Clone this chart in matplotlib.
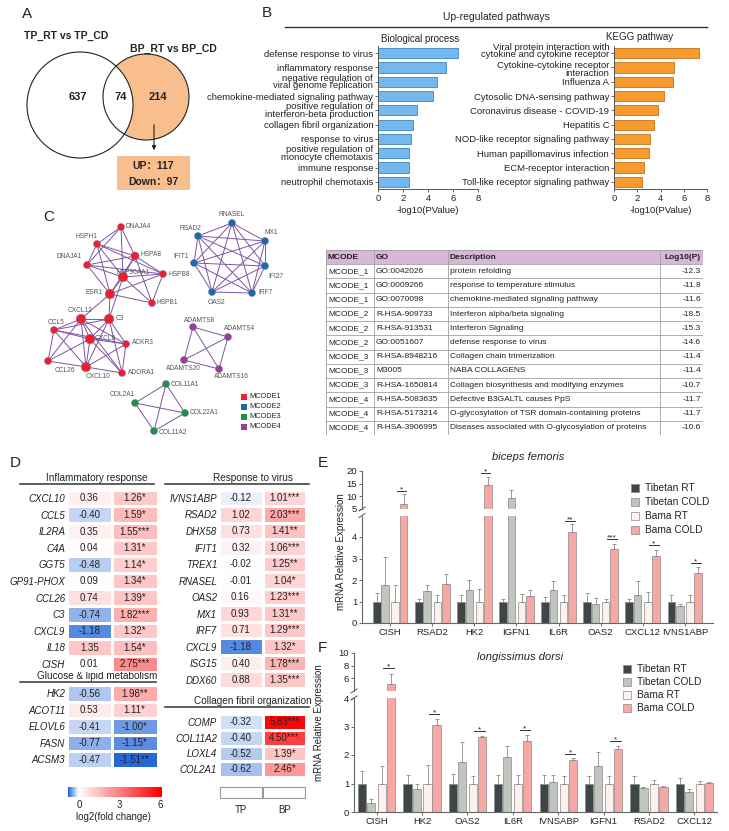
import itertools
import numpy as np
import matplotlib
matplotlib.use('Agg')
import matplotlib.pyplot as plt
from matplotlib.patches import Circle, Rectangle
from matplotlib.colors import LinearSegmentedColormap, Normalize
from matplotlib.transforms import offset_copy

plt.rcParams['font.family'] = ['Liberation Sans', 'Noto Sans CJK SC', 'DejaVu Sans']
plt.rcParams['text.color'] = '#222222'
plt.rcParams['axes.labelcolor'] = '#222222'
plt.rcParams['xtick.color'] = '#555555'
plt.rcParams['ytick.color'] = '#555555'
plt.rcParams['xtick.labelcolor'] = '#222222'
plt.rcParams['ytick.labelcolor'] = '#222222'

# ---------------- data ----------------
# A: venn
venn_counts = [637, 74, 214]
bp_up, bp_down = 117, 97

# B: up-regulated pathways
bp_terms = ['defense response to virus', 'inflammatory response',
            'negative regulation of\nviral genome replication',
            'chemokine-mediated signaling pathway',
            'positive regulation of\ninterferon-beta production',
            'collagen fibril organization', 'response to virus',
            'positive regulation of\nmonocyte chemotaxis',
            'immune response', 'neutrophil chemotaxis']
bp_logp = [6.4, 5.4, 4.7, 4.4, 3.1, 2.8, 2.6, 2.5, 2.5, 2.5]
kegg_terms = ['Viral protein interaction with\ncytokine and cytokine receptor',
              'Cytokine-cytokine receptor\ninteraction', 'Influenza A',
              'Cytosolic DNA-sensing pathway', 'Coronavirus disease - COVID-19',
              'Hepatitis C', 'NOD-like receptor signaling pathway',
              'Human papillomavirus infection', 'ECM-receptor interaction',
              'Toll-like receptor signaling pathway']
kegg_logp = [7.3, 5.2, 5.1, 4.3, 3.8, 3.4, 3.1, 3.0, 2.6, 2.4]

# C: MCODE clusters
mcode1 = ['DNAJA4', 'HSPH1', 'HSPA8', 'DNAJA1', 'HSP90AA1', 'HSPB8', 'ESR1', 'HSPB1',
          'CXCL12', 'C3', 'CCL5', 'CXCL8', 'ACKR3', 'CCL26', 'CXCL10', 'ADORA1']
mcode2 = ['RNASEL', 'RSAD2', 'MX1', 'IFIT1', 'IFI27', 'OAS2', 'IRF7']
mcode3 = ['COL11A1', 'COL2A1', 'COL22A1', 'COL11A2']
mcode4 = ['ADAMTS8', 'ADAMTS4', 'ADAMTS20', 'ADAMTS16']
mcode1_edges = [('DNAJA4', 'HSPH1'), ('DNAJA4', 'HSPA8'), ('DNAJA4', 'HSP90AA1'), ('DNAJA4', 'DNAJA1'),
                ('HSPH1', 'HSPA8'), ('HSPH1', 'DNAJA1'), ('HSPH1', 'HSP90AA1'), ('HSPH1', 'HSPB8'),
                ('HSPH1', 'ESR1'), ('HSPA8', 'DNAJA1'), ('HSPA8', 'HSP90AA1'), ('HSPA8', 'HSPB8'),
                ('HSPA8', 'HSPB1'), ('HSPA8', 'ESR1'), ('DNAJA1', 'HSP90AA1'), ('DNAJA1', 'HSPB8'),
                ('DNAJA1', 'ESR1'), ('HSP90AA1', 'HSPB8'), ('HSP90AA1', 'ESR1'), ('HSP90AA1', 'HSPB1'),
                ('HSP90AA1', 'C3'), ('HSPB8', 'HSPB1'), ('HSPB8', 'ESR1'), ('ESR1', 'HSPB1'),
                ('ESR1', 'C3'), ('ESR1', 'CXCL12'),
                ('CXCL12', 'C3'), ('CXCL12', 'CCL5'), ('CXCL12', 'CXCL8'), ('CXCL12', 'CCL26'),
                ('CXCL12', 'CXCL10'), ('CXCL12', 'ACKR3'), ('CXCL12', 'ADORA1'), ('C3', 'CCL5'),
                ('C3', 'CXCL8'), ('C3', 'ACKR3'), ('C3', 'CXCL10'), ('C3', 'ADORA1'),
                ('CCL5', 'CXCL8'), ('CCL5', 'CCL26'), ('CCL5', 'CXCL10'), ('CCL5', 'ACKR3'),
                ('CXCL8', 'CCL26'), ('CXCL8', 'CXCL10'), ('CXCL8', 'ACKR3'), ('CXCL8', 'ADORA1'),
                ('CCL26', 'CXCL10'), ('CXCL10', 'ADORA1'), ('CXCL10', 'ACKR3'), ('ACKR3', 'ADORA1')]

# C: enrichment table
tab_mcode = ['MCODE_1'] * 3 + ['MCODE_2'] * 3 + ['MCODE_3'] * 3 + ['MCODE_4'] * 3
tab_go = ['GO:0042026', 'GO:0009266', 'GO:0070098', 'R-HSA-909733', 'R-HSA-913531', 'GO:0051607',
          'R-HSA-8948216', 'M3005', 'R-HSA-1650814', 'R-HSA-5083635', 'R-HSA-5173214', 'R-HSA-3906995']
tab_desc = ['protein refolding', 'response to temperature stimulus',
            'chemokine-mediated signaling pathway', 'Interferon alpha/beta signaling',
            'Interferon Signaling', 'defense response to virus', 'Collagen chain trimerization',
            'NABA COLLAGENS', 'Collagen biosynthesis and modifying enzymes',
            'Defective B3GALTL causes PpS', 'O-glycosylation of TSR domain-containing proteins',
            'Diseases associated with O-glycosylation of proteins']
tab_logp = [-12.3, -11.8, -11.6, -18.5, -15.3, -14.6, -11.4, -11.4, -10.7, -11.7, -11.7, -10.6]

# D: log2 fold change heatmaps
inflam_genes = ['CXCL10', 'CCL5', 'IL2RA', 'C4A', 'GGT5', 'GP91-PHOX', 'CCL26', 'C3', 'CXCL9', 'IL18', 'CISH']
inflam_tp = [0.36, -0.40, 0.35, 0.04, -0.48, 0.09, 0.74, -0.74, -1.18, 1.35, 0.01]
inflam_bp = [1.26, 1.59, 1.55, 1.31, 1.14, 1.34, 1.39, 1.82, 1.32, 1.54, 2.75]
inflam_sig = ['*', '*', '***', '*', '*', '*', '*', '***', '*', '*', '***']
glu_genes = ['HK2', 'ACOT11', 'ELOVL6', 'FASN', 'ACSM3']
glu_tp = [-0.56, 0.53, -0.41, -0.77, -0.47]
glu_bp = [1.98, 1.11, -1.00, -1.15, -1.51]
glu_sig = ['**', '*', '*', '*', '**']
virus_genes = ['IVNS1ABP', 'RSAD2', 'DHX58', 'IFIT1', 'TREX1', 'RNASEL', 'OAS2', 'MX1', 'IRF7',
               'CXCL9', 'ISG15', 'DDX60']
virus_tp = [-0.12, 1.02, 0.73, 0.32, -0.02, -0.01, 0.16, 0.93, 0.71, -1.18, 0.40, 0.88]
virus_bp = [1.01, 2.03, 1.41, 1.06, 1.25, 1.04, 1.23, 1.31, 1.29, 1.32, 1.78, 1.35]
virus_sig = ['***', '***', '**', '***', '**', '*', '***', '**', '***', '*', '***', '***']
coll_genes = ['COMP', 'COL11A2', 'LOXL4', 'COL2A1']
coll_tp = [-0.32, -0.40, -0.52, -0.62]
coll_bp = [5.83, 4.50, 1.39, 2.46]
coll_sig = ['***', '***', '*', '*']

# E/F: qPCR
groups = ['Tibetan RT', 'Tibetan COLD', 'Bama RT', 'Bama COLD']
e_genes = ['CISH', 'RSAD2', 'HK2', 'IGFN1', 'IL6R', 'OAS2', 'CXCL12', 'IVNS1ABP']
e_mean = [[1.0] * 8,
          [1.75, 1.47, 1.52, 9.2, 1.55, 0.87, 1.29, 0.79],
          [1.0] * 8,
          [6.9, 1.83, 14.6, 1.26, 4.23, 3.46, 3.1, 2.34]]
e_err = [[0.41, 0.1, 0.32, 0.1, 0.22, 0.41, 0.1, 0.29],
         [1.32, 0.28, 0.46, 3.3, 0.39, 0.29, 0.66, 0.11],
         [0.75, 0.29, 0.6, 0.33, 0.32, 0.13, 0.44, 0.32],
         [3.9, 0.46, 3.0, 0.26, 0.39, 0.23, 0.28, 0.26]]
e_sig = ['*', '', '*', '', '**', '***', '*', '*']
e_sig_y = [12.0, np.nan, 19.2, np.nan, 4.73, 3.9, 3.62, 2.8]

f_genes = ['CISH', 'HK2', 'OAS2', 'IL6R', 'IVNSABP', 'IGFN1', 'RSAD2', 'CXCL12']
f_mean = [[1.0] * 8,
          [0.32, 0.8, 1.75, 1.93, 1.04, 1.62, 0.83, 0.71],
          [1.0] * 8,
          [5.1, 3.04, 2.62, 2.5, 1.83, 2.2, 0.88, 1.01]]
f_err = [[0.45, 0.31, 0.33, 0.3, 0.3, 0.25, 0.27, 0.21],
         [0.12, 0.2, 0.69, 0.39, 0.26, 0.48, 0.05, 0.11],
         [0.63, 0.65, 0.25, 0.3, 0.25, 0.25, 0.14, 0.1],
         [1.6, 0.24, 0.05, 0.2, 0.06, 0.12, 0.02, 0.03]]
f_sig = ['*', '*', '*', '*', '*', '*', '', '']
f_sig_y = [7.6, 3.44, 2.85, 2.88, 2.05, 2.5, np.nan, np.nan]

# ---------------- layout helpers ----------------
W, H = 729, 831
fig = plt.figure(figsize=(W / 100, H / 100), dpi=100)


def box(x0, y0, x1, y1):
    # axes from pixel box (top-left origin), transparent so overlay text shows
    ax = fig.add_axes([x0 / W, 1 - y1 / H, (x1 - x0) / W, (y1 - y0) / H])
    ax.set_facecolor('none')
    return ax


bg = box(0, 0, W, H)
bg.set_xlim(0, W)
bg.set_ylim(H, 0)
bg.axis('off')

for letter, lx, ly in [('A', 22, 14), ('B', 262, 13), ('C', 43, 217),
                       ('D', 10, 463), ('E', 318, 463), ('F', 318, 648)]:
    bg.text(lx, ly, letter, fontsize=11, va='center')

# ---------------- A ----------------
orange = '#f9be8e'
bg.add_patch(Circle((146, 97), 43, fc=orange, ec='none'))
bg.add_patch(Circle((80, 105), 53, fc='white', ec='none'))
bg.add_patch(Circle((146, 97), 43, fc='none', ec='#222222', lw=0.8))
bg.add_patch(Circle((80, 105), 53, fc='none', ec='#222222', lw=0.8))
bg.text(66, 36, 'TP_RT vs TP_CD', fontsize=7.5, fontweight='bold', ha='center', va='center')
bg.text(173, 49, 'BP_RT vs BP_CD', fontsize=7.5, fontweight='bold', ha='center', va='center')
for cx, n in zip([78, 121, 158], venn_counts):
    bg.text(cx, 97, str(n), fontsize=8, fontweight='bold', ha='center', va='center')
bg.annotate('', xy=(154, 153), xytext=(154, 122),
            arrowprops=dict(arrowstyle='-|>', color='#222222', lw=0.8, mutation_scale=6))
bg.add_patch(Rectangle((117, 156), 73, 34, fc=orange, ec='none'))
bg.text(153, 166, f'UP：{bp_up}', fontsize=7.5, fontweight='bold', ha='center', va='center')
bg.text(153, 182, f'Down：{bp_down}', fontsize=7.5, fontweight='bold', ha='center', va='center')

# ---------------- B ----------------
bg.text(496, 17, 'Up-regulated pathways', fontsize=7.5, ha='center', va='center')
bg.plot([285, 707], [27, 27], color='#333333', lw=1.0)
bg.text(420, 39, 'Biological process', fontsize=7, ha='center', va='center')
bg.text(640, 37, 'KEGG pathway', fontsize=7, ha='center', va='center')


def pathway_bars(ax, terms, vals, color, edge):
    y = np.arange(len(terms))
    ax.barh(y, vals, height=0.72, color=color, edgecolor=edge, linewidth=0.6)
    ax.set_ylim(len(terms) - 0.5, -0.5)
    ax.set_xlim(0, 8)
    ax.tick_params(axis='both', length=2.5, width=0.6, pad=1, labelsize=6.8)
    ax.set_xticks([0, 2, 4, 6, 8])
    ax.set_yticks(y)
    ax.set_yticklabels(terms, fontsize=6.8, linespacing=0.8)
    ax.spines[['top', 'right']].set_visible(False)
    for s in ('left', 'bottom'):
        ax.spines[s].set_color('#555555')
        ax.spines[s].set_linewidth(0.7)
    ax.set_xlabel('-log10(PValue)', fontsize=6.8, labelpad=2.5)


ax_bp = box(378, 46, 478, 189)
pathway_bars(ax_bp, bp_terms, bp_logp, '#74b8f2', '#3d83c4')
ax_kegg = box(614, 46, 707, 189)
pathway_bars(ax_kegg, kegg_terms, kegg_logp, '#f89b2f', '#c6721a')
# nudge the two stacked two-line KEGG labels apart, as in the original
kegg_labels = ax_kegg.get_yticklabels()
for lab, dy in zip(kegg_labels[:2], [2.5, -2.0]):
    lab.set_transform(offset_copy(lab.get_transform(), fig=fig, x=0, y=dy, units='dots'))

# ---------------- C: network ----------------
node_pos = {'DNAJA4': (121, 227), 'HSPH1': (97, 244), 'HSPA8': (135, 256), 'DNAJA1': (87, 265),
            'HSP90AA1': (123, 277), 'HSPB8': (163, 274), 'ESR1': (110, 294), 'HSPB1': (152, 303),
            'CXCL12': (81, 319), 'C3': (109, 319), 'CCL5': (54, 330), 'CXCL8': (90, 339),
            'ACKR3': (126, 344), 'CCL26': (48, 361), 'CXCL10': (86, 367), 'ADORA1': (122, 373),
            'RNASEL': (232, 223), 'RSAD2': (198, 236), 'MX1': (265, 241), 'IFIT1': (194, 263),
            'IFI27': (265, 266), 'OAS2': (212, 292), 'IRF7': (252, 293),
            'ADAMTS8': (193, 327), 'ADAMTS4': (228, 337), 'ADAMTS20': (184, 360), 'ADAMTS16': (219, 369),
            'COL11A1': (166, 384), 'COL2A1': (135, 403), 'COL22A1': (185, 413), 'COL11A2': (154, 431)}
label_pos = {'DNAJA4': (126, 227, 'left'), 'HSPH1': (86, 236, 'center'), 'HSPA8': (141, 254, 'left'),
             'DNAJA1': (82, 257, 'right'), 'HSP90AA1': (117, 272, 'left'), 'HSPB8': (169, 274, 'left'),
             'ESR1': (103, 293, 'right'), 'HSPB1': (157, 303, 'left'), 'CXCL12': (80, 310, 'center'),
             'C3': (116, 319, 'left'), 'CCL5': (56, 322, 'center'), 'CXCL8': (95, 339, 'left'),
             'ACKR3': (132, 343, 'left'), 'CCL26': (65, 370, 'center'), 'CXCL10': (98, 377, 'center'),
             'ADORA1': (128, 373, 'left'), 'RNASEL': (232, 214, 'center'), 'RSAD2': (190, 228, 'center'),
             'MX1': (271, 233, 'center'), 'IFIT1': (189, 257, 'right'), 'IFI27': (276, 276, 'center'),
             'OAS2': (216, 302, 'center'), 'IRF7': (258, 292, 'left'), 'ADAMTS8': (200, 320, 'center'),
             'ADAMTS4': (240, 329, 'center'), 'ADAMTS20': (183, 369, 'center'),
             'ADAMTS16': (231, 377, 'center'), 'COL11A1': (171, 384, 'left'),
             'COL2A1': (122, 394, 'center'), 'COL22A1': (190, 413, 'left'), 'COL11A2': (159, 432, 'left')}
big_nodes = ['HSP90AA1', 'ESR1', 'C3', 'CXCL12', 'CXCL8', 'CXCL10']
mcode_colors = ['#ee1f2b', '#1d6aa6', '#1f9146', '#9d3b97']

all_edges = list(mcode1_edges)
for cl in (mcode2, mcode3, mcode4):
    all_edges += list(itertools.combinations(cl, 2))
for a, b in all_edges:
    (xa, ya), (xb, yb) = node_pos[a], node_pos[b]
    bg.plot([xa, xb], [ya, yb], color='#7d559f', lw=0.7, zorder=2)
for cl, col in zip((mcode1, mcode2, mcode3, mcode4), mcode_colors):
    xs = [node_pos[n][0] for n in cl]
    ys = [node_pos[n][1] for n in cl]
    sz = [48 if n in big_nodes else (34 if n == 'HSPA8' else 26) for n in cl]
    bg.scatter(xs, ys, s=sz, color=col, edgecolors='#6f84b5', linewidths=0.3, zorder=3)
    for n in cl:
        lx, ly, ha = label_pos[n]
        bg.text(lx, ly, n, fontsize=4.8, color='#555555', ha=ha, va='center', zorder=4)
for i, col in enumerate(mcode_colors):
    bg.add_patch(Rectangle((241, 394 + 10 * i), 6, 6, fc=col, ec='none'))
    bg.text(249, 397 + 10 * i, f'MCODE{i + 1}', fontsize=5.3, va='center')

# ---------------- C: table ----------------
ax_tab = box(326, 250, 703, 435)
col_edges = [0, 48, 122, 334, 377]
n_rows = len(tab_go) + 1
ax_tab.set_xlim(0, 377)
ax_tab.set_ylim(n_rows, 0)
ax_tab.axis('off')
ax_tab.add_patch(Rectangle((0, 0), 377, 1, fc='#d8b6d8', ec='none'))
for r in range(n_rows + 1):
    ax_tab.plot([0, 377], [r, r], color='#a0a0a0', lw=0.6)
for c in col_edges:
    ax_tab.plot([c, c], [0, n_rows], color='#a0a0a0', lw=0.6)
for x, s in zip([2, 50, 124], ['MCODE', 'GO', 'Description']):
    ax_tab.text(x, 0.5, s, fontsize=6, fontweight='bold', va='center')
ax_tab.text(375, 0.5, 'Log10(P)', fontsize=6, fontweight='bold', va='center', ha='right')
for i in range(len(tab_go)):
    yy = i + 1.5
    ax_tab.text(2, yy, tab_mcode[i], fontsize=6, va='center')
    ax_tab.text(50, yy, tab_go[i], fontsize=6, va='center')
    ax_tab.text(124, yy, tab_desc[i], fontsize=6, va='center')
    ax_tab.text(375, yy, f'{tab_logp[i]:.1f}', fontsize=6, va='center', ha='right')

# ---------------- D: heatmaps ----------------
hm_cmap = LinearSegmentedColormap.from_list(
    'fc', [(0, '#1a5fd6'), (1.6 / 7.6, '#ffffff'), (1, '#ff0000')])
hm_norm = Normalize(vmin=-1.6, vmax=6)


def heat_block(x0, y0, x1, y1, genes, tp, bp, sig):
    ax = box(x0, y0, x1, y1)
    vals = np.column_stack([tp, bp])
    ax.pcolormesh(vals, cmap=hm_cmap, norm=hm_norm, edgecolors='white', linewidth=1.9)
    ax.set_xlim(0, 2)
    ax.set_ylim(len(genes), 0)
    for i in range(len(genes)):
        ax.text(0.5, i + 0.52, f'{tp[i]:.2f}', ha='center', va='center', fontsize=7)
        ax.text(1.5, i + 0.52, f'{bp[i]:.2f}{sig[i]}', ha='center', va='center', fontsize=7)
    ax.set_yticks(np.arange(len(genes)) + 0.5)
    ax.set_yticklabels(genes, fontsize=7, style='italic')
    ax.set_xticks([])
    ax.tick_params(length=0, pad=1)
    for s in ax.spines.values():
        s.set_visible(False)
    return ax


def block_title(cx, y, x0, x1, text):
    bg.text(cx, y - 3, text, fontsize=7.2, ha='center', va='center')
    bg.plot([x0, x1], [y + 3, y + 3], color='#444444', lw=1.2)


block_title(97, 481, 20, 154, 'Inflammatory response')
heat_block(66.5, 489.7, 157.5, 672.3, inflam_genes, inflam_tp, inflam_bp, inflam_sig)
block_title(97, 679, 20, 156, 'Glucose & lipid metabolism')
heat_block(66.5, 685, 157.5, 767.5, glu_genes, glu_tp, glu_bp, glu_sig)
block_title(253, 481, 165, 309, 'Response to virus')
heat_block(218.5, 489.7, 306.5, 688, virus_genes, virus_tp, virus_bp, virus_sig)
block_title(253, 704, 165, 309, 'Collagen fibril organization')
heat_block(218.5, 714, 306.5, 777, coll_genes, coll_tp, coll_bp, coll_sig)

# colour bar (negative side compressed as in the original)
ax_cb = box(68, 787, 162, 797)
cb_x = np.linspace(-0.8, 6.1, 300)
cb_v = np.where(cb_x < 0, cb_x * 2, cb_x)
ax_cb.pcolormesh(cb_x, [0, 1], np.vstack([cb_v, cb_v]), cmap=hm_cmap, norm=hm_norm, shading='gouraud')
ax_cb.set_xlim(-0.8, 6.1)
ax_cb.set_xticks([0, 3, 6])
ax_cb.set_yticks([])
ax_cb.tick_params(length=0, labelsize=7, pad=2)
for s in ax_cb.spines.values():
    s.set_visible(False)
bg.text(113, 817, 'log2(fold change)', fontsize=7, ha='center', va='center')

for cx, lab in [(241, 'TP'), (284.5, 'BP')]:
    bg.add_patch(Rectangle((cx - 21, 787), 42, 11, fc='white', ec='#999999', lw=0.8))
    bg.text(cx, 810, lab, fontsize=7, ha='center', va='center')

# ---------------- E / F: qPCR bars ----------------
grp_colors = ['#3e4648', '#c1c5be', '#fdf1ee', '#f7a8a4']
bar_offsets = [-0.32, -0.12, 0.12, 0.32]


def style_axes(ax, lower):
    ax.spines[['top', 'right']].set_visible(False)
    for s in ('left', 'bottom'):
        ax.spines[s].set_color('#666666')
        ax.spines[s].set_linewidth(0.8)
    ax.tick_params(length=2.5, width=0.6, labelsize=6.8, pad=1)
    if not lower:
        ax.spines['bottom'].set_visible(False)
        ax.set_xticks([])


def expr_panel(lo, hi, genes, means, errs, sig, sig_y, xlim):
    x = np.arange(len(genes))
    for ax in (lo, hi):
        for k in range(4):
            ax.bar(x + bar_offsets[k], means[k], width=0.18, color=grp_colors[k],
                   edgecolor='#8a8a8a', linewidth=0.5, zorder=2)
            ax.errorbar(x + bar_offsets[k], means[k], yerr=[np.zeros(len(genes)), errs[k]],
                        fmt='none', ecolor='#8a8a8a', elinewidth=0.6, capsize=1.6,
                        capthick=0.6, zorder=3)
        ax.set_xlim(*xlim)
    top_lo = lo.get_ylim()[1]
    for i, s in enumerate(sig):
        if not s:
            continue
        ax = lo if sig_y[i] < top_lo else hi
        ax.plot([i + 0.15, i + 0.38], [sig_y[i]] * 2, color='#333333', lw=0.7, zorder=4)
        ax.annotate(s, (i + 0.265, sig_y[i]), xytext=(0, -0.3), textcoords='offset points',
                    ha='center', va='baseline', fontsize=6)
    lo.set_xticks(x)
    lo.set_xticklabels(genes, fontsize=6.6)
    style_axes(lo, True)
    style_axes(hi, False)


def legend_block(x, y, dy):
    for k, g in enumerate(groups):
        bg.add_patch(Rectangle((x, y + k * dy - 4), 8, 8, fc=grp_colors[k], ec='#8a8a8a', lw=0.5))
        bg.text(x + 14, y + k * dy, g, fontsize=7.3, va='center')


def break_marks(x, y_lo_top, y_hi_bot):
    for yy in (y_lo_top, y_hi_bot):
        bg.plot([x - 3, x + 3], [yy + 2, yy - 2], color='#666666', lw=0.8)


# E: biceps femoris
e_lo = box(362, 515.5, 713, 623)
e_hi = box(362, 471, 713, 509)
e_lo.set_ylim(0, 5)
e_hi.set_ylim(5, 20)
expr_panel(e_lo, e_hi, e_genes, e_mean, e_err, e_sig, e_sig_y, (-0.67, 7.67))
e_lo.set_yticks([0, 1, 2, 3, 4])
e_hi.set_yticks([5, 10, 15, 20])
break_marks(362, 515.5, 509)
bg.text(528, 457, 'biceps femoris', fontsize=8, style='italic', ha='center', va='center')
bg.text(341, 552, 'mRNA Relative Expression', fontsize=7, rotation=90, ha='center', va='center')
legend_block(631, 488, 14)

# F: longissimus dorsi
f_lo = box(354, 698, 717, 812)
f_hi = box(354, 653, 717, 691)
f_lo.set_ylim(0, 4)
f_hi.set_ylim(4, 10)
expr_panel(f_lo, f_hi, f_genes, f_mean, f_err, f_sig, f_sig_y, (-0.5, 7.5))
f_lo.set_yticks([0, 1, 2, 3, 4])
f_hi.set_yticks([6, 8, 10])
break_marks(354, 698, 691)
bg.text(520, 657, 'longissimus dorsi', fontsize=8, style='italic', ha='center', va='center')
bg.text(319, 723, 'mRNA Relative Expression', fontsize=7, rotation=90, ha='center', va='center')
legend_block(623, 669, 13)

fig.savefig('out.png', dpi=100)
